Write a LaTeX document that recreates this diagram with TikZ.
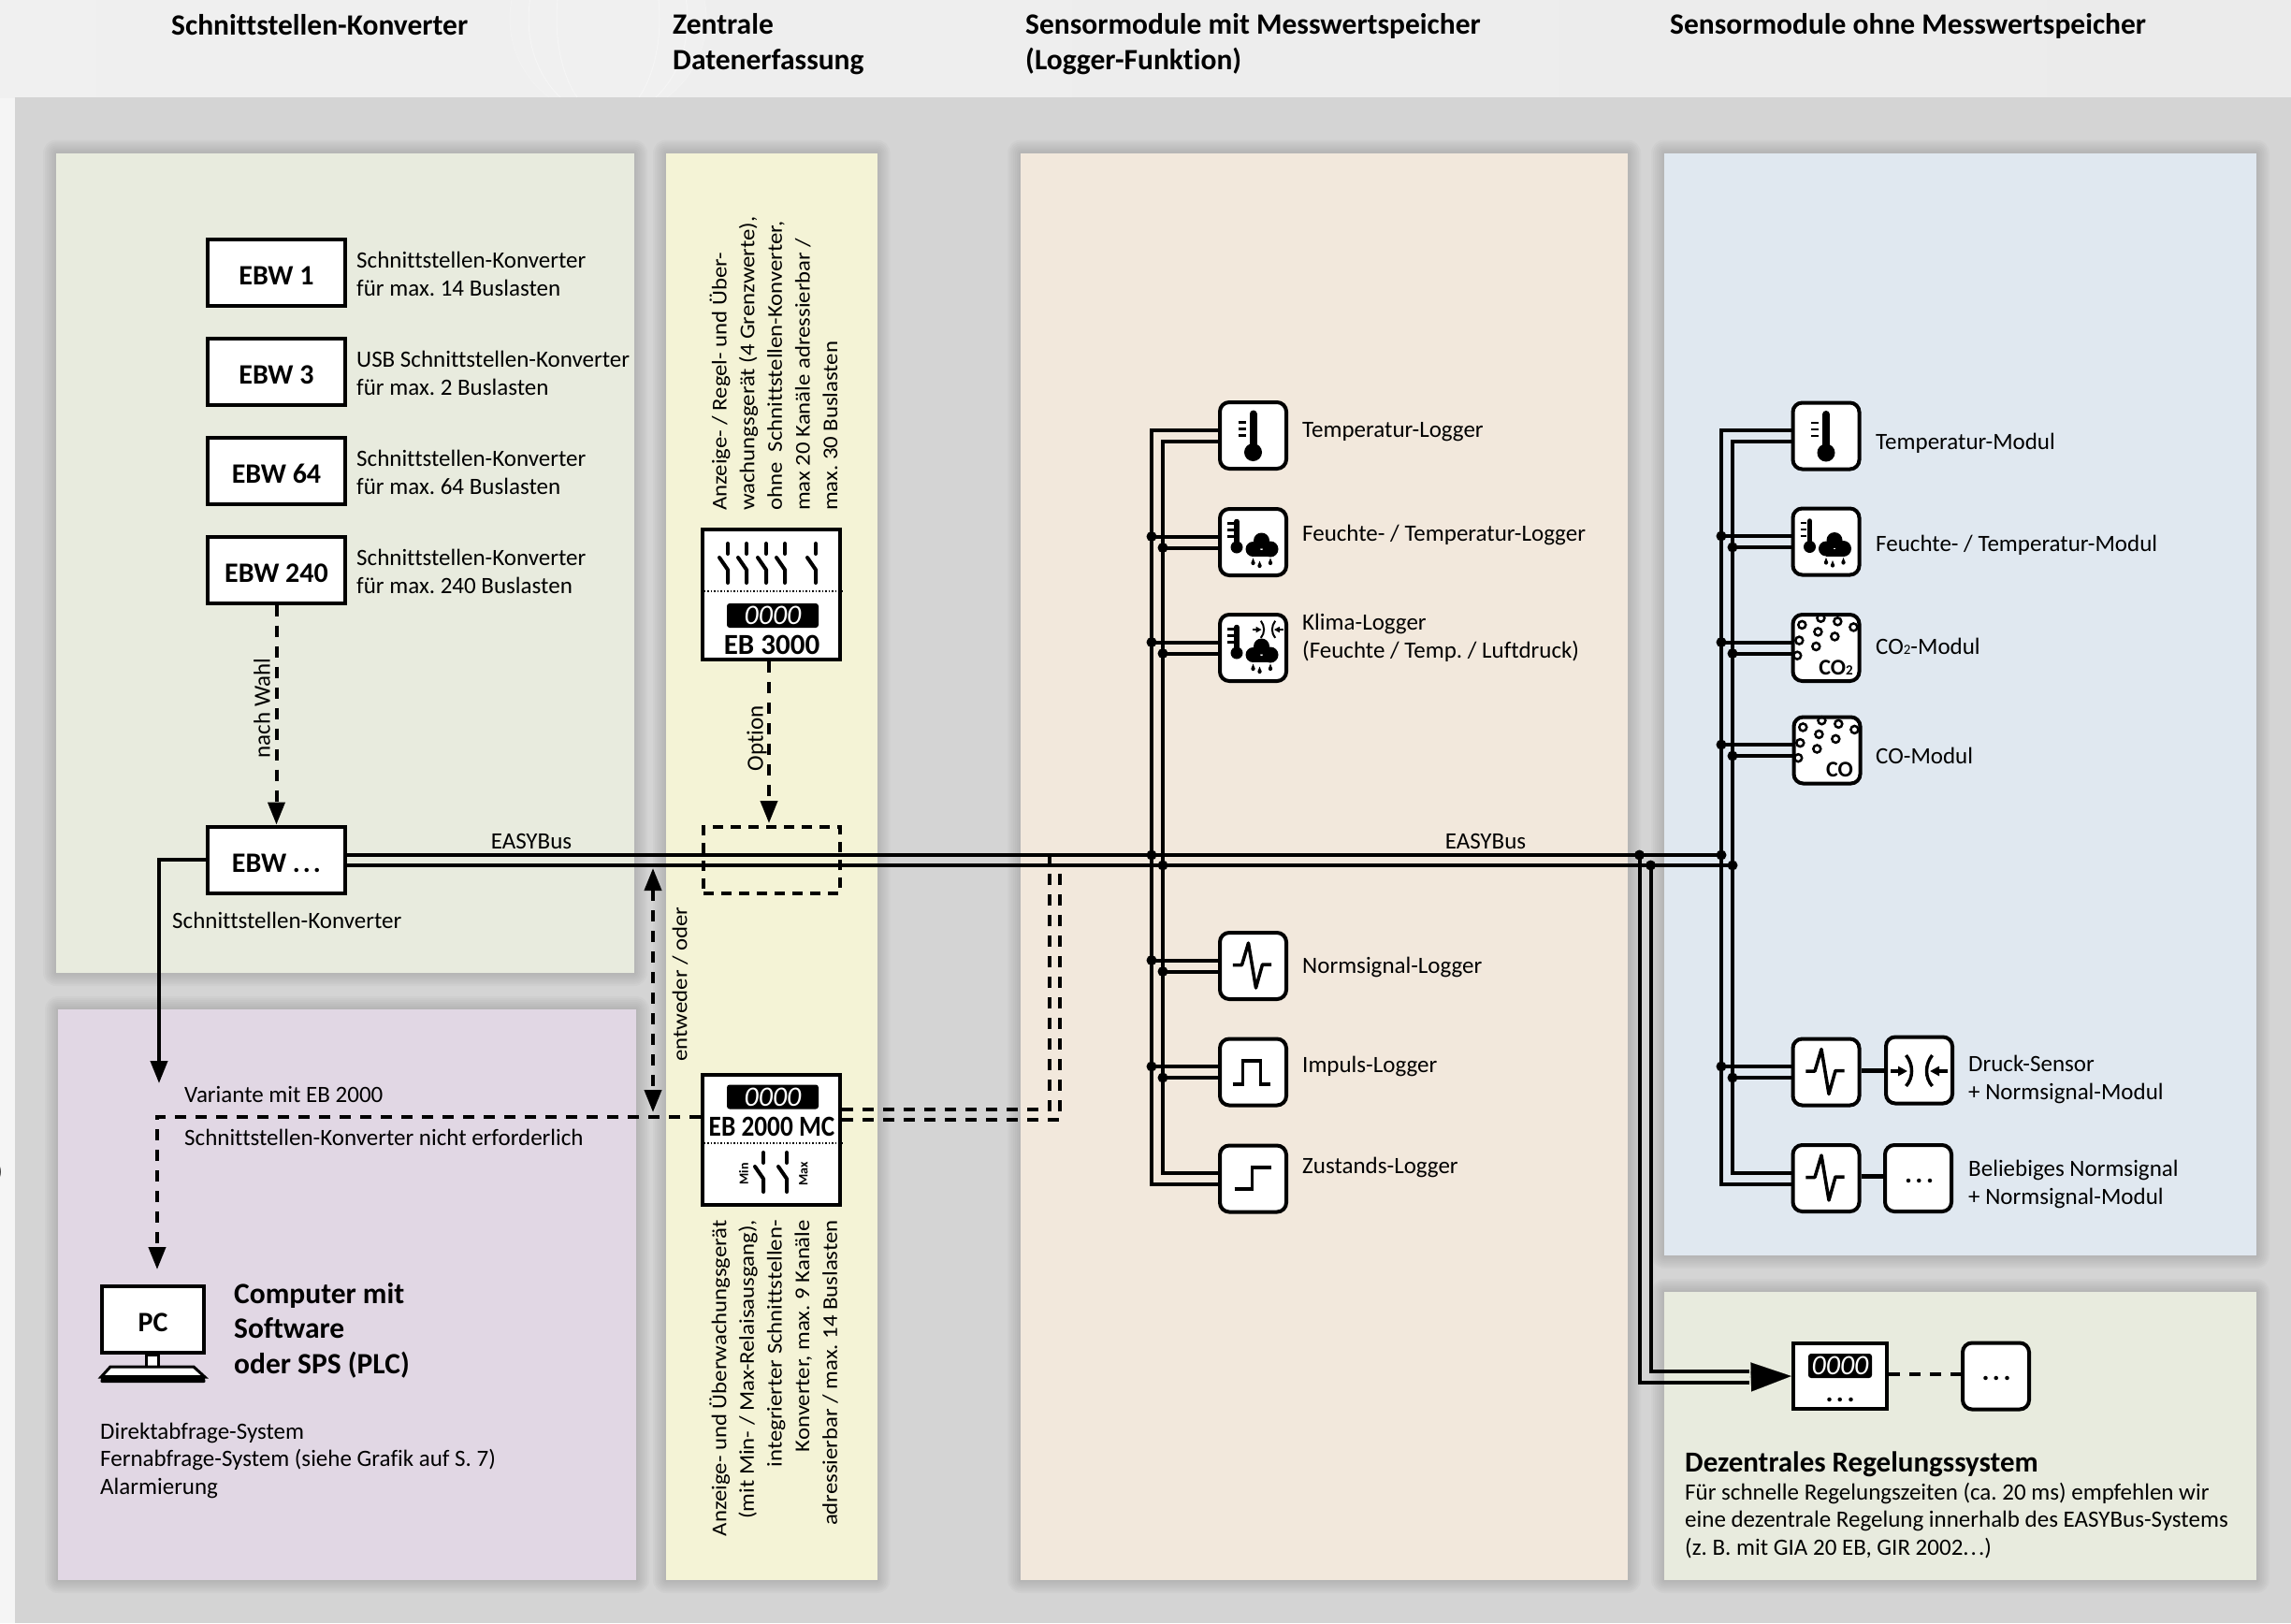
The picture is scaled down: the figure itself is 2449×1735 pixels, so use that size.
\documentclass[tikz,border=0pt]{standalone}
\usepackage{fontspec}
\setmainfont{Carlito}[Ligatures=NoCommon]
\newfontfamily\sidefont{Carlito}[FakeStretch=1.1,Ligatures=NoCommon]
\frenchspacing
\usetikzlibrary{arrows.meta}
\definecolor{bggray}{HTML}{D4D4D4}
\definecolor{headgray}{HTML}{EBEBEB}
\definecolor{greenpanel}{HTML}{E8EBDE}
\definecolor{yellowpanel}{HTML}{F4F3D6}
\definecolor{peachpanel}{HTML}{F2E8DC}
\definecolor{bluepanel}{HTML}{E0E8F0}
\definecolor{purplepanel}{HTML}{E1D7E4}
\newcommand{\widedots}[1]{.\hspace{#1}.\hspace{#1}.}
\newcommand{\panelfill}[3]{%
	\coordinate (pa) at #2;
	\coordinate (pb) at #3;
	\foreach \pad in {2,4,6,8,10,12,14}{\fill[black,opacity=.02,rounded corners=\pad pt] ([xshift=-\pad pt,yshift=\pad pt]pa) rectangle ([xshift=\pad pt,yshift=-\pad pt]pb);}
	\fill[#1] (pa) rectangle (pb);}
\tikzset{
	bodytext/.style={font=\fontsize{25}{30}\selectfont,align=left,anchor=west,inner sep=0pt},
	headtext/.style={font=\fontsize{31.5}{37.5}\selectfont\bfseries,align=left,anchor=west,inner sep=0pt},
	sidetext/.style={font=\fontsize{22.5}{29.6}\selectfont\sidefont,rotate=90,inner sep=0pt},
	rectbox/.style={draw,line width=4pt,fill=white,minimum width=147pt,minimum height=71pt,inner sep=0pt,text height=26pt,text depth=0pt,font=\fontsize{30}{30}\selectfont\bfseries},
	iconbox/.style={draw,line width=4pt,fill=white,rounded corners=10pt,minimum width=71pt,minimum height=71pt,inner sep=0pt},
	lcdbox/.style={fill=black,text=white,rounded corners=3pt,minimum width=98pt,minimum height=26pt,inner sep=0pt,font=\fontsize{30}{30}\selectfont\itshape},
	dotsmark/.style={inner sep=0pt,font=\fontsize{30}{30}\selectfont\bfseries},
	busline/.style={line width=4pt},
	dashline/.style={line width=4pt,dash pattern=on 12pt off 10pt},
	bigtip/.style={-{Triangle[length=24pt,width=18pt]}},
	junction/.style={circle,fill=black,inner sep=0pt,minimum size=11pt},
	dotline/.style={line width=1.5pt,dash pattern=on 1.5pt off 2pt},
	unitlabel/.style={inner sep=0pt,font=\fontsize{31}{31}\selectfont\bfseries},
	thermolarge/.pic={
		\draw[line width=8pt,line cap=round] (0,-23) -- (0,18);
		\fill (0,18) circle [radius=9.5];
		\foreach \ty in {-14,-7,0} \draw[line width=2.5pt] (-16,\ty) -- (-8,\ty);
	},
	thermosmall/.pic={
		\draw[line width=5.5pt,line cap=round] (-17.5,-22) -- (-17.5,5);
		\fill (-17.5,5.5) circle [radius=6.5];
		\foreach \ty in {-20,-13,-6} \draw[line width=2.2pt] (-27.5,\ty) -- (-21,\ty);
	},
	cloudrain/.pic={
		\fill (9,-1.5) circle [radius=8.5];
		\fill (0,7.5) circle [radius=8];
		\fill (18.5,7.5) circle [radius=8.5];
		\fill (0,8) rectangle (18.5,15.5);
		\foreach \px/\py in {0/17,7/20,18.5/17}{
			\fill (\px,\py) -- (\px+2,\py+5) -- (\px-2,\py+5) -- cycle;
			\fill (\px,\py+5.5) circle [radius=2.1];
		}
	},
	pressure/.pic={
		\draw[->] (-30.5,1) -- (-12.5,1);
		\draw[->] (30.5,1) -- (11.5,1);
		\draw (-14,-16) .. controls (-6,-6) and (-6,8) .. (-14,17);
		\draw (14,-16) .. controls (6,-6) and (6,8) .. (14,17);
	},
	signalwave/.pic={\draw[line width=3.5pt,line join=round] (-21.7,-1) -- (-12,-1) -- (-5,-24.5) -- (3,23.5) -- (10,-1.5) -- (19.5,-1.5);},
	signalpulse/.pic={\draw[line width=3.5pt] (-21.7,13) -- (-11,13) -- (-11,-12) -- (8,-12) -- (8,13) -- (18.5,13);},
	signalstep/.pic={\draw[line width=3.5pt] (-20,11) -- (-1,11) -- (-1,-12) -- (19,-12);},
	bubbles/.pic={
		\foreach \bx/\by in {-25.7/-24.6,-5.6/-31.8,12.3/-28.2,29.4/-22.1,-8.6/-17.1,9.3/-12.1,-28.7/-7.9,-10.7/-1.5,-30.8/8.2}
			\draw[line width=2.5pt] (\bx,\by) circle [radius=4];
	},
	relayswitch/.pic={
		\draw[line width=4pt,line cap=round] (0,2) -- (0,13);
		\draw[line width=4pt,line cap=round,line join=round] (-9,17) -- (0,30) -- (0,44);
	}
}
\begin{document}
\begin{tikzpicture}[x=1pt,y=-1pt]
	\useasboundingbox (0,0) rectangle (2449,1735);
	% Background
	\fill[white!96!black] (0,0) rectangle (2449,1735);
	\shade[left color=white!94!black,right color=headgray] (0,0) rectangle (2449,104);
	\begin{scope}
		\clip (0,0) rectangle (2449,104);
		\fill[white,opacity=.12] (650,20) circle [radius=105];
		\draw[black!5,line width=1pt] (650,20) circle [radius=105];
		\draw[black!4,line width=1pt] (650,20) ellipse [x radius=55,y radius=105];
		\draw[black!4,line width=1pt] (650,20) ellipse [x radius=85,y radius=105];
	\end{scope}
	\fill[bggray] (15.5,104) rectangle (2449,1735);
	% Panels
	\panelfill{greenpanel}{(60,163.5)}{(678,1040)}
	\panelfill{purplepanel}{(62,1079)}{(680,1689)}
	\panelfill{yellowpanel}{(712,163.5)}{(937.5,1689)}
	\panelfill{peachpanel}{(1091,163.5)}{(1740,1689)}
	\panelfill{bluepanel}{(1779,163.5)}{(2412,1342)}
	\panelfill{greenpanel}{(1779,1381)}{(2412,1689)}
	% Headers
	\node[headtext] (headconv) at (183,26.5) {Schnittstellen-Konverter};
	\node[headtext] (headcentral) at (719,47) {Zentrale\\Datenerfassung};
	\node[headtext] (headlogger) at (1096,47) {Sensormodule mit Messwertspeicher\\(Logger-Funktion)};
	\node[headtext] (headmodule) at (1785,28) {Sensormodule ohne Messwertspeicher};
	\node[bodytext] (edgemark) at (-5,1253) {)};
	% Converters
	\node[rectbox] (ebwa) at (295.5,291.5) {EBW 1};
	\node[rectbox] (ebwb) at (295.5,397.5) {EBW 3};
	\node[rectbox] (ebwc) at (295.5,503.5) {EBW 64};
	\node[rectbox] (ebwd) at (295.5,609) {EBW 240};
	\node[rectbox] (ebwx) at (295.5,919) {EBW \widedots{3pt}};
	\node[bodytext] (ebwatxt) at (381,293) {Schnittstellen-Konverter\\für max. 14 Buslasten};
	\node[bodytext] (ebwbtxt) at (381,398.5) {USB Schnittstellen-Konverter\\für max. 2 Buslasten};
	\node[bodytext] (ebwctxt) at (381,505) {Schnittstellen-Konverter\\für max. 64 Buslasten};
	\node[bodytext] (ebwdtxt) at (381,611) {Schnittstellen-Konverter\\für max. 240 Buslasten};
	\node[bodytext] (ebwxtxt) at (184,984) {Schnittstellen-Konverter};
	\draw[dashline,bigtip] (ebwd.south) -- (ebwx.north);
	\node[bodytext,rotate=90,anchor=center] (wahltxt) at (280,757) {nach Wahl};
	% Central units
	\node[rectbox,minimum height=139pt] (ebt) at (824.5,635.5) {};
	\node[rectbox,minimum height=139pt] (ebm) at (824.5,1218.5) {};
	\node[lcdbox] (ebtlcd) at (826,658) {0000};
	\node[lcdbox] (ebmlcd) at (826,1172.5) {0000};
	\node[unitlabel] (ebttxt) at (825,689) {EB 3000};
	\node[unitlabel,xscale=.88] (ebmtxt) at (825,1204) {EB 2000 MC};
	\draw[dotline] ([yshift=3.5pt]ebt.west) -- ([yshift=3.5pt]ebt.east);
	\draw[dotline] ([yshift=-3.5pt]ebm.west) -- ([yshift=-3.5pt]ebm.east);
	\foreach \sx in {778,798,819,839,872} \pic at (\sx,579) {relayswitch};
	\foreach \sx in {816,841} \pic at (\sx,1230) {relayswitch};
	\node[inner sep=0pt,rotate=90,font=\fontsize{14}{14}\selectfont\bfseries] (mintxt) at (795,1255) {Min};
	\node[inner sep=0pt,rotate=90,font=\fontsize{14}{14}\selectfont\bfseries] (maxtxt) at (859,1255) {Max};
	\node[sidetext,anchor=west,align=left] (ebttxtlong) at (827,546) {Anzeige- / Regel- und Über-\\wachungsgerät (4 Grenzwerte),\\ohne~ Schnittstellen-Konverter,\\max 20 Kanäle adressierbar /\\max. 30 Buslasten};
	\node[sidetext,anchor=east,align=right] (ebmtxtlong) at (827,1304) {Anzeige- und Überwachungsgerät\\(mit Min- / Max-Relaisausgang),\\integrierter Schnittstellen-\\Konverter, max. 9 Kanäle\\adressierbar / max. 14 Buslasten};
	\node[draw,line width=3.5pt,dash pattern=on 11pt off 8pt,minimum width=146pt,minimum height=71pt] (option) at (825,919.5) {};
	\coordinate (optiontip) at (822,880);
	\draw[dashline,bigtip] (ebt.south -| optiontip) -- (optiontip);
	\node[bodytext,rotate=90,anchor=center] (optiontxt) at (809,789) {Option};
	% EASYBus
	\coordinate (lga) at (1231,914);
	\coordinate (lgb) at (1243,925);
	\coordinate (moda) at (1840,914);
	\coordinate (modb) at (1852,925);
	\coordinate (dza) at (1752.5,914);
	\coordinate (dzb) at (1764.5,925);
	\draw[busline] ([yshift=5pt]ebwx.east) -- (moda);
	\draw[busline] ([yshift=-6pt]ebwx.east) -- (modb);
	\node[bodytext,anchor=center] (bustxta) at (568,899) {EASYBus};
	\node[bodytext,anchor=center] (bustxtb) at (1588,899) {EASYBus};
	\foreach \jc in {lga,lgb,moda,modb,dza,dzb} \node[junction] (j\jc) at (\jc) {};
	% Links to PC and EB 2000 MC
	\coordinate (vartip) at (170,1158);
	\coordinate (pctip) at (168,1357);
	\coordinate (bothtop) at (698,928);
	\coordinate (bothbot) at (698,1189);
	\coordinate (dasha) at (1122,914);
	\coordinate (dashb) at (1133,925);
	\draw[busline,bigtip] (ebwx.west) -| (vartip);
	\draw[dashline,bigtip] ([yshift=24.5pt]ebm.west) -| (pctip);
	\draw[dashline,{Triangle[length=24pt,width=18pt]}-{Triangle[length=24pt,width=18pt]}] (bothtop) -- (bothbot);
	\draw[dashline] ([yshift=32.5pt]ebm.east) -| (dasha);
	\draw[dashline] ([yshift=21.5pt]ebm.east) -| (dashb);
	\node[bodytext] (vartxta) at (197,1170) {Variante mit EB 2000};
	\node[bodytext] (vartxtb) at (197,1216) {Schnittstellen-Konverter nicht erforderlich};
	\node[sidetext,anchor=center] (bothtxt) at (727,1052) {entweder / oder};
	% PC
	\draw[line width=3pt,fill=white] (156,1448) rectangle (169,1461);
	\draw[line width=3pt,fill=white] (118,1461) -- (207,1461) -- (219,1472) -- (108,1472) -- cycle;
	\fill[rounded corners=2pt] (109,1470) -- (218,1470) -- (220,1478) -- (107,1478) -- cycle;
	\node[rectbox,minimum width=109pt,minimum height=71pt] (pc) at (163.5,1410.5) {PC};
	\node[headtext] (pctxt) at (250,1422) {Computer mit\\Software\\oder SPS (PLC)};
	\node[bodytext,font=\fontsize{25}{29.5}\selectfont] (pclist) at (107,1561) {Direktabfrage-System\\Fernabfrage-System (siehe Grafik auf S. 7)\\Alarmierung};
	% Logger
	\node[iconbox] (lgtemp) at (1339.5,465.5) {};
	\node[iconbox] (lgfeu) at (1339.5,579.5) {};
	\node[iconbox] (lgklim) at (1339.5,692.5) {};
	\node[iconbox] (lgnorm) at (1339.5,1032.5) {};
	\node[iconbox] (lgimp) at (1339.5,1146) {};
	\node[iconbox] (lgzust) at (1339.5,1260) {};
	\draw[busline] ([yshift=6pt]lgtemp.west) -| (lga) |- ([yshift=-6pt]lgzust.west);
	\draw[busline] ([yshift=-6pt]lgtemp.west) -| (lgb) |- ([yshift=6pt]lgzust.west);
	\foreach \nm in {lgfeu,lgklim,lgnorm,lgimp}{
		\draw[busline] ([yshift=6pt]\nm.west) -- ([yshift=6pt]\nm.west -| lga);
		\draw[busline] ([yshift=-6pt]\nm.west) -- ([yshift=-6pt]\nm.west -| lgb);
		\node[junction] (\nm a) at ([yshift=6pt]\nm.west -| lga) {};
		\node[junction] (\nm b) at ([yshift=-6pt]\nm.west -| lgb) {};
	}
	\pic at (lgtemp) {thermolarge};
	\pic at (lgfeu) {thermosmall};
	\pic at (lgfeu) {cloudrain};
	\pic at (lgklim) {thermosmall};
	\pic at (lgklim) {cloudrain};
	\pic[scale=.55,line width=2pt,>={Triangle[length=6pt,width=6pt]}] at ([xshift=16pt,yshift=20pt]lgklim) {pressure};
	\pic at (lgnorm) {signalwave};
	\pic at (lgimp) {signalpulse};
	\pic at (lgzust) {signalstep};
	\node[bodytext] (lgtemptxt) at (1392,462) {Temperatur-Logger};
	\node[bodytext] (lgfeutxt) at (1392,572) {Feuchte- / Temperatur-Logger};
	\node[bodytext] (lgklimtxt) at (1392,682) {Klima-Logger\\(Feuchte / Temp. / Luftdruck)};
	\node[bodytext] (lgnormtxt) at (1392,1033.5) {Normsignal-Logger};
	\node[bodytext] (lgimptxt) at (1392,1140) {Impuls-Logger};
	\node[bodytext] (lgzusttxt) at (1392,1247.5) {Zustands-Logger};
	% Modules
	\node[iconbox] (modtemp) at (1952,466) {};
	\node[iconbox] (modfeu) at (1952,579) {};
	\node[iconbox] (modcoo) at (1952,692.5) {};
	\node[iconbox] (modco) at (1953,802) {};
	\node[iconbox] (modnorm) at (1952,1146) {};
	\node[iconbox] (modany) at (1952,1259.5) {};
	\node[iconbox] (druck) at (2051.5,1144) {};
	\node[iconbox] (beliebig) at (2050.5,1259.5) {};
	\draw[busline] ([yshift=6pt]modtemp.west) -| (moda) |- ([yshift=-6pt]modany.west);
	\draw[busline] ([yshift=-6pt]modtemp.west) -| (modb) |- ([yshift=6pt]modany.west);
	\foreach \nm in {modfeu,modcoo,modco,modnorm}{
		\draw[busline] ([yshift=6pt]\nm.west) -- ([yshift=6pt]\nm.west -| moda);
		\draw[busline] ([yshift=-6pt]\nm.west) -- ([yshift=-6pt]\nm.west -| modb);
		\node[junction] (\nm a) at ([yshift=6pt]\nm.west -| moda) {};
		\node[junction] (\nm b) at ([yshift=-6pt]\nm.west -| modb) {};
	}
	\draw[line width=5pt] (druck.west -| modnorm.east) -- (druck.west);
	\draw[line width=5pt] ([yshift=2.5pt]modany.east) -- ([yshift=2.5pt]beliebig.west);
	\pic at (modtemp) {thermolarge};
	\pic at (modfeu) {thermosmall};
	\pic at (modfeu) {cloudrain};
	\pic at (modcoo) {bubbles};
	\pic at (modco) {bubbles};
	\pic at (modnorm) {signalwave};
	\pic at (modany) {signalwave};
	\pic[line width=3.5pt,>={Triangle[length=10pt,width=10pt]}] at (druck) {pressure};
	\node[dotsmark] (beliebigdots) at (2051.5,1262) {\widedots{3.5pt}};
	\node[inner sep=0pt,font=\fontsize{24}{24}\selectfont\bfseries] (coosym) at (1962.6,713.6) {CO\fontsize{15}{15}\selectfont 2};
	\node[inner sep=0pt,font=\fontsize{24}{24}\selectfont\bfseries] (cosym) at (1966.4,823) {CO};
	\node[bodytext] (modtemptxt) at (2005,474) {Temperatur-Modul};
	\node[bodytext] (modfeutxt) at (2005,583) {Feuchte- / Temperatur-Modul};
	\node[bodytext] (modcootxt) at (2005,691) {CO{\fontsize{15}{15}\selectfont 2}-Modul};
	\node[bodytext] (modcotxt) at (2005,808) {CO-Modul};
	\node[bodytext] (druckntxt) at (2104,1153.5) {Druck-Sensor\\+ Normsignal-Modul};
	\node[bodytext] (beliebigtxt) at (2104,1265.5) {Beliebiges Normsignal\\+ Normsignal-Modul};
	% Decentral control
	\node[rectbox,minimum width=100.5pt,minimum height=70.5pt] (ctrl) at (1967,1471) {};
	\node[iconbox] (ctrlnext) at (2133.5,1471) {};
	\node[lcdbox,minimum width=68pt] (ctrllcd) at (1967,1460) {0000};
	\node[dotsmark] (ctrldots) at (1967,1496) {\widedots{3.5pt}};
	\node[dotsmark] (nextdots) at (2134,1473) {\widedots{3.5pt}};
	\coordinate (ctrlbase) at (1870,1472);
	\draw[busline] (dza) |- ([yshift=-6pt]ctrlbase);
	\draw[busline] (dzb) |- ([yshift=6pt]ctrlbase);
	\draw[line width=0.1pt,-{Triangle[length=43pt,width=31pt]}] (ctrlbase) -- (ctrl.west);
	\draw[dashline] ([yshift=2pt]ctrl.east) -- ([yshift=2pt]ctrlnext.west);
	\node[headtext,font=\fontsize{31}{31}\selectfont\bfseries] (ctrlhead) at (1801,1565.5) {Dezentrales Regelungssystem};
	\node[bodytext,font=\fontsize{25}{29.2}\selectfont] (ctrltxt) at (1801,1625.5) {Für schnelle Regelungszeiten (ca. 20 ms) empfehlen wir\\eine dezentrale Regelung innerhalb des EASYBus-Systems\\(z. B. mit GIA 20 EB, GIR 2002\widedots{2pt})};
\end{tikzpicture}
\end{document}
